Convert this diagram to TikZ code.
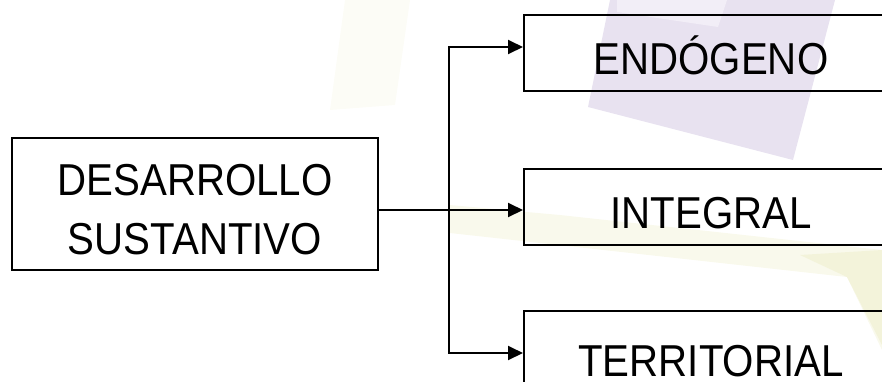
\documentclass[tikz,border=0pt]{standalone}
\usepackage{fontspec}
\setmainfont{Liberation Sans}[FakeStretch=0.9]
\usetikzlibrary{arrows.meta}
\definecolor{wmPurple}{RGB}{232,226,240}
\definecolor{wmPurpleLight}{RGB}{242,238,247}
\definecolor{wmCream}{RGB}{252,252,246}
\definecolor{wmYellow}{RGB}{249,249,236}
\definecolor{wmYellowDeep}{RGB}{243,243,218}
\begin{document}
\begin{tikzpicture}[x=1pt,y=-1pt,
  box/.style={draw=black, line width=1.9pt, inner sep=0pt,
    font=\fontsize{44.7}{58.5}\selectfont},
  rbox/.style={box, anchor=north west, minimum width=374pt,
    minimum height=76pt, text height=43pt, text depth=0pt},
  conn/.style={-{Triangle[length=15pt,width=14pt]}, line width=1.9pt}]
\useasboundingbox (0,0) rectangle (882,381);
\clip (0,0) rectangle (882,381);
% faint watermark shapes
\fill[wmCream] (330,110) -- (345,0) -- (410,0) -- (395,105) -- cycle;
\fill[wmPurple] (610,0) -- (588,107) -- (793,160) -- (835,0) -- cycle;
\fill[wmPurpleLight] (617,0) -- (617,12) -- (718,27) -- (727,0) -- cycle;
\fill[wmYellow] (450,205) -- (560,215) -- (882,250) -- (882,350) -- (847,277) -- (450,233) -- cycle;
\fill[wmYellowDeep] (800,255) -- (882,250) -- (882,345) -- (847,277) -- cycle;
% boxes
\node[box, anchor=north west, minimum width=366pt, minimum height=132pt,
  align=center] (L) at (11,137) {\rule{0pt}{42.5pt}DESARROLLO\\SUSTANTIVO};
\node[rbox] (T) at (523,14) {ENDÓGENO};
\node[rbox] (M) at (523,168) {INTEGRAL};
\node[rbox, minimum height=89pt] (B) at (523,310) {TERRITORIAL};
% connectors
\coordinate (J) at (449,210);
\coordinate (A1) at (449,47);
\coordinate (A3) at (449,353);
\draw[conn] (L.east |- J) -- (M.west |- J);
\draw[conn] (J) -- (A1) -- (T.west |- A1);
\draw[conn] (J) -- (A3) -- (B.west |- A3);
\end{tikzpicture}
\end{document}
